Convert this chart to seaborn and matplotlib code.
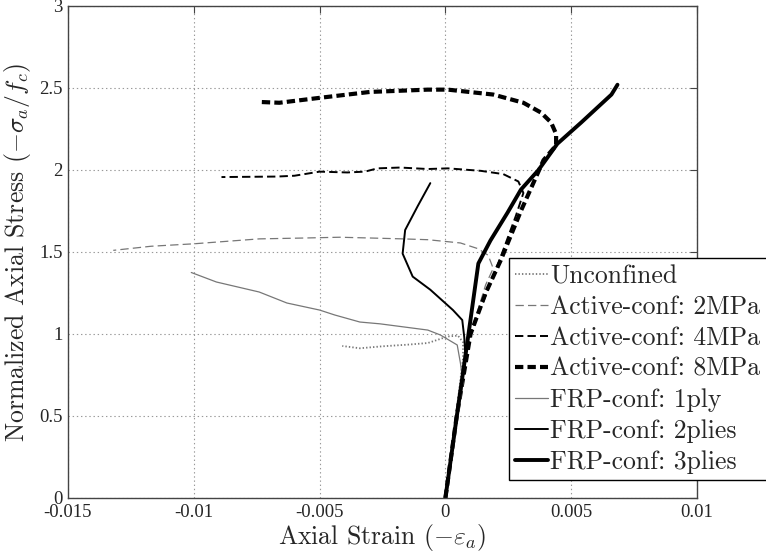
import numpy as np
import pandas as pd
import matplotlib
matplotlib.use("Agg")
import matplotlib.pyplot as plt
import seaborn as sns

# ---- data (strain, normalized stress) ----
unconf_x = [0, 0.00025, 0.0005, 0.0007, 0.0007, 0.0005, 0.0001, -0.0007, -0.0015, -0.0025, -0.0034, -0.0041]
unconf_y = [0, 0.3, 0.6, 0.85, 0.95, 0.99, 0.985, 0.945, 0.935, 0.925, 0.913, 0.927]

a2_x = [0, 0.00045, 0.001, 0.0016, 0.0019, 0.0017, 0.0013, 0.0006, -0.0007, -0.0017, -0.0029, -0.0042,
        -0.0057, -0.0074, -0.0087, -0.010, -0.0117, -0.0132]
a2_y = [0, 0.5, 1.0, 1.3, 1.40, 1.48, 1.52, 1.555, 1.575, 1.58, 1.585, 1.59,
        1.585, 1.58, 1.565, 1.55, 1.535, 1.51]

a4_x = [0, 0.00045, 0.001, 0.0021, 0.0028, 0.0031, 0.0029, 0.0023, 0.0014, 0.0001, -0.0007, -0.0018,
        -0.0027, -0.0032, -0.0039, -0.005, -0.006, -0.0067, -0.0089]
a4_y = [0, 0.5, 1.0, 1.43, 1.72, 1.86, 1.93, 1.975, 1.995, 2.01, 2.006, 2.015,
        2.01, 1.99, 1.985, 1.99, 1.965, 1.96, 1.957]

a8_x = [0, 0.00045, 0.001, 0.0016, 0.0022, 0.003, 0.0039, 0.0044, 0.0044, 0.0042, 0.0038, 0.0031,
        0.0019, 0.0001, -0.0007, -0.003, -0.005, -0.0066, -0.0074]
a8_y = [0, 0.5, 1.0, 1.25, 1.45, 1.75, 2.06, 2.15, 2.22, 2.29, 2.35, 2.41,
        2.46, 2.49, 2.49, 2.476, 2.44, 2.41, 2.415]

f1_x = [0, 0.0003, 0.0007, 0.0006, 0.00047, -0.0002, -0.0007, -0.0026, -0.0034, -0.0044, -0.005,
        -0.0063, -0.0074, -0.0091, -0.0101]
f1_y = [0, 0.3, 0.70, 0.82, 0.933, 0.994, 1.024, 1.062, 1.073, 1.116, 1.146,
        1.189, 1.256, 1.317, 1.375]

f2_x = [0, 0.0005, 0.0008, 0.00075, 0.00067, 0.0003, -0.0006, -0.0013, -0.0017, -0.0016, -0.0011, -0.0006]
f2_y = [0, 0.55, 0.85, 0.98, 1.085, 1.146, 1.27, 1.35, 1.49, 1.634, 1.78, 1.92]

f3_x = [0, 0.0005, 0.0009, 0.00131, 0.00179, 0.00247, 0.003, 0.0037, 0.00445, 0.0054, 0.0066, 0.00684]
f3_y = [0, 0.55, 0.98, 1.43, 1.57, 1.74, 1.88, 2.0, 2.16, 2.29, 2.46, 2.52]

labels = ["Unconfined", "Active-conf: 2MPa", "Active-conf: 4MPa", "Active-conf: 8MPa",
          "FRP-conf: 1ply", "FRP-conf: 2plies", "FRP-conf: 3plies"]

xticks = [-0.015, -0.01, -0.005, 0, 0.005, 0.01]
xticklabels = ["-0.015", "-0.01", "-0.005", "0", "0.005", "0.01"]
yticks = [0, 0.5, 1, 1.5, 2, 2.5, 3]
yticklabels = ["0", "0.5", "1", "1.5", "2", "2.5", "3"]

sns.set_style("white")
plt.rcParams["mathtext.fontset"] = "cm"
plt.rcParams["lines.scale_dashes"] = False

fig = plt.figure(figsize=(7.66, 5.56), dpi=100)
ax = fig.add_axes([68 / 766, 58 / 556, 629 / 766, 492 / 556])

gray = "#777777"
series = [
    (unconf_x, unconf_y, gray, 1.3, (0, (1, 1.5))),
    (a2_x, a2_y, gray, 0.9, (0, (6, 3))),
    (a4_x, a4_y, "black", 1.4, (0, (6, 3))),
    (a8_x, a8_y, "black", 3.0, (0, (6, 3))),
    (f1_x, f1_y, gray, 0.9, "-"),
    (f2_x, f2_y, "black", 1.4, "-"),
    (f3_x, f3_y, "black", 2.8, "-"),
]
for (xs, ys, c, lw, ls), lab in zip(series, labels):
    df = pd.DataFrame({"strain": xs, "stress": ys})
    sns.lineplot(data=df, x="strain", y="stress", sort=False, estimator=None,
                 color=c, linewidth=lw, linestyle=ls, label=lab, ax=ax)

ax.set_xlim(-0.015, 0.01)
ax.set_ylim(0, 3)
ax.set_xticks(xticks)
ax.set_xticklabels(xticklabels, fontfamily="Liberation Serif", fontsize=13.5)
ax.set_yticks(yticks)
ax.set_yticklabels(yticklabels, fontfamily="Liberation Serif", fontsize=13.5)
ax.tick_params(direction="in", length=5, top=True, right=True, color="#444444", pad=4)
ax.grid(True, color="#999999", linestyle=(0, (1, 2)), linewidth=0.8)
for sp in ax.spines.values():
    sp.set_color("#444444")
    sp.set_linewidth(1.0)

ax.set_xlabel(r"Axial Strain ($-\varepsilon_a$)", fontfamily="cmr10", fontsize=18.5, labelpad=1)
ax.set_ylabel(r"Normalized Axial Stress ($-\sigma_a/f_c$)", fontfamily="cmr10", fontsize=18.5, labelpad=4)

handles, labs = ax.get_legend_handles_labels()
leg = ax.legend(handles, labs, loc="upper left", bbox_to_anchor=(509 / 766, (556 - 258) / 556),
                bbox_transform=fig.transFigure, borderaxespad=0, fancybox=False, framealpha=1,
                edgecolor="black", handlelength=1.25, handletextpad=0.1, labelspacing=0.28,
                borderpad=0.25, prop={"family": "cmr10", "size": 18.5})
leg.get_frame().set_linewidth(1.0)

fig.savefig("out.png", dpi=100)
